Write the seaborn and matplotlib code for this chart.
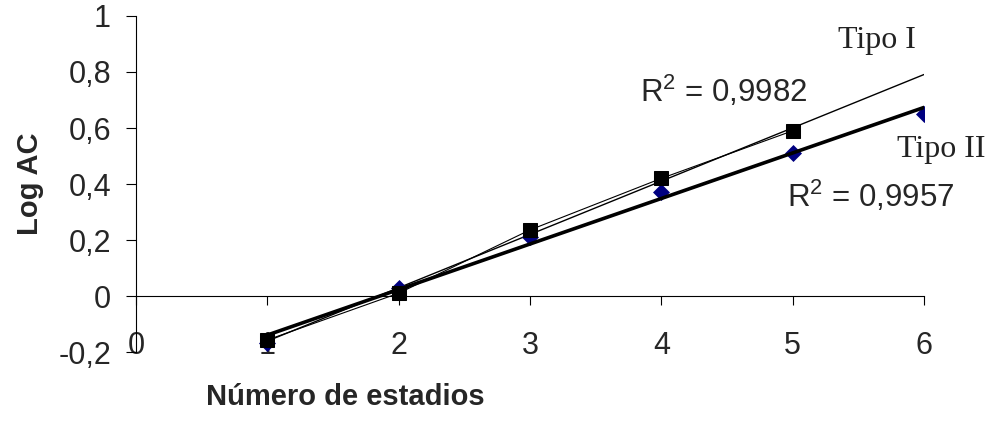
import numpy as np
import matplotlib
matplotlib.use("Agg")
import matplotlib.pyplot as plt
import seaborn as sns

# datos
estadios_1 = [1, 2, 3, 4, 5]
log_ac_1 = [-0.157, 0.01, 0.236, 0.42, 0.59]
estadios_2 = [1, 2, 3, 4, 5, 6]
log_ac_2 = [-0.168, 0.03, 0.21, 0.37, 0.51, 0.65]

x_ticks = [0, 1, 2, 3, 4, 5, 6]
y_ticks = [-0.2, 0, 0.2, 0.4, 0.6, 0.8, 1]
y_tick_labels = ['-0,2', '0', '0,2', '0,4', '0,6', '0,8', '1']

sns.set_theme(style="white")
plt.rcParams['font.family'] = ['Liberation Sans', 'DejaVu Sans']
plt.rcParams['mathtext.fontset'] = 'custom'
plt.rcParams['mathtext.rm'] = 'Liberation Sans'
plt.rcParams['mathtext.it'] = 'Liberation Sans'

fig = plt.figure(figsize=(9.95, 4.23), dpi=100)
ax = fig.add_axes([136 / 995, 1 - 352 / 423, 788 / 995, 336 / 423])

# lineas de tendencia
xs = np.array([1, 6])
p1 = np.polyfit(estadios_1, log_ac_1, 1)
p2 = np.polyfit(estadios_2, log_ac_2, 1)
ax.plot(xs, np.polyval(p1, xs), color='black', lw=1.0, zorder=2)
ax.plot(xs, np.polyval(p2, xs), color='black', lw=2.6, zorder=3)

sns.scatterplot(x=estadios_2, y=log_ac_2, marker='D', color='#000080', s=75,
                edgecolor='#000080', linewidth=0, ax=ax, zorder=2.5)
sns.lineplot(x=estadios_1, y=log_ac_1, marker='s', color='black', lw=0.8,
             markersize=9.5, markeredgecolor='black', ax=ax, zorder=4)

ax.set_xlim(0, 6)
ax.set_ylim(-0.2, 1)
ax.set_xticks(x_ticks)
ax.set_xticklabels([str(t) for t in x_ticks])
ax.set_yticks(y_ticks)
ax.set_yticklabels(y_tick_labels)

for s in ['top', 'right']:
    ax.spines[s].set_visible(False)
ax.spines['bottom'].set_position(('data', 0))
ax.spines['left'].set_position(('data', 0))
for s in ['bottom', 'left']:
    ax.spines[s].set_color('black')
    ax.spines[s].set_linewidth(0.8)

ax.tick_params(axis='x', direction='out', length=6.5, width=0.8, color='black',
               pad=18.5, labelsize=22, bottom=True)
ax.tick_params(axis='y', direction='out', length=7, width=0.8, color='black',
               pad=11, labelsize=22, left=True)
ax.grid(False)

ax.text(5.345, 0.886, 'Tipo I', family=['Liberation Serif'], fontsize=23,
        va='baseline', color='#222222')
ax.text(5.795, 0.496, 'Tipo II', family=['Liberation Serif'], fontsize=23,
        va='baseline', color='#222222')
ax.text(3.84, 0.693, r'R$^2$ = 0,9982', fontsize=22.5, va='baseline')
ax.text(4.957, 0.318, r'R$^2$ = 0,9957', fontsize=22.5, va='baseline')

fig.text(30 / 995, 1 - 184 / 423, 'Log AC', rotation=90, fontsize=21,
         fontweight='bold', ha='center', va='center')
fig.text(345 / 995, 1 - 397 / 423, 'Número de estadios', fontsize=21,
         fontweight='bold', ha='center', va='center')

fig.savefig('out.png', dpi=100)
